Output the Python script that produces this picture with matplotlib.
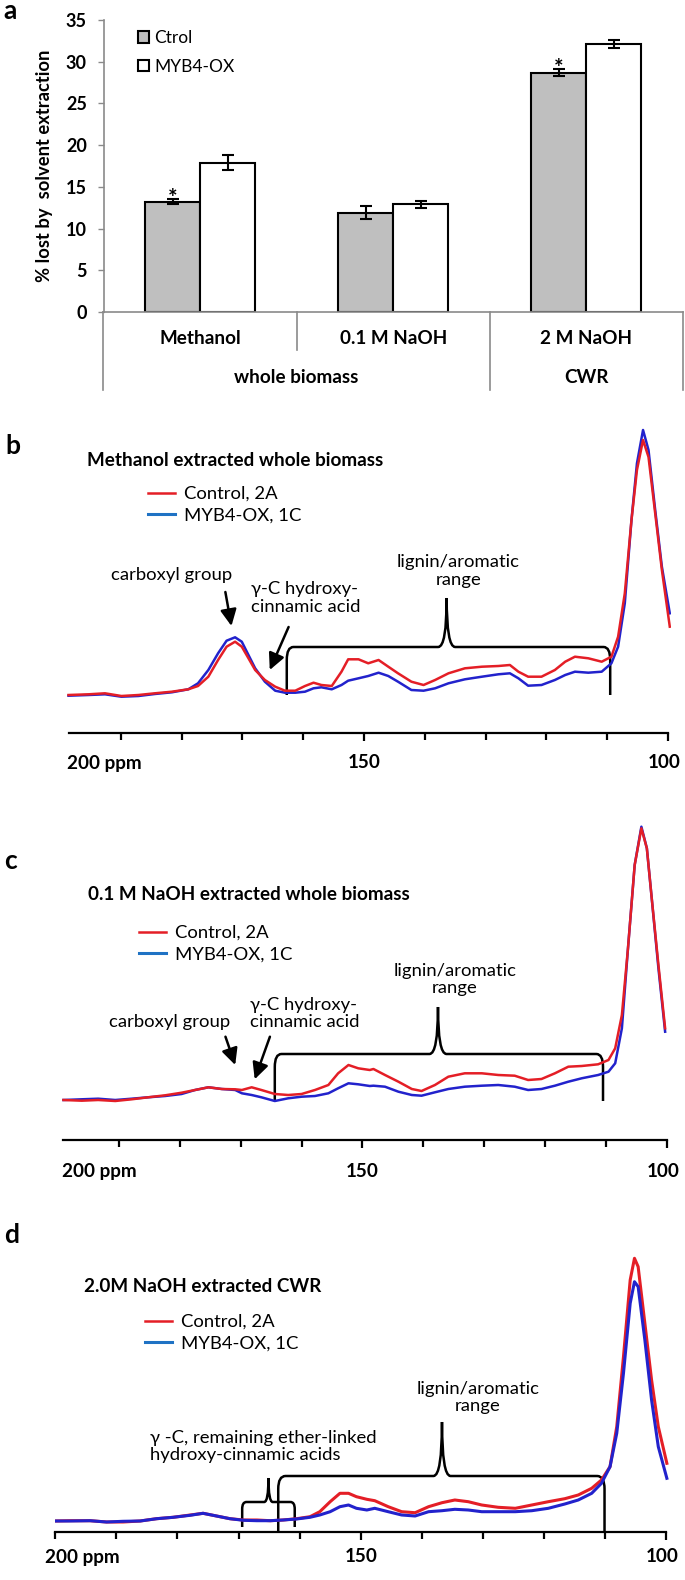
import numpy as np
import matplotlib
matplotlib.use("Agg")
import matplotlib.pyplot as plt
from matplotlib.path import Path
from matplotlib.patches import PathPatch
from matplotlib.lines import Line2D
from matplotlib.transforms import blended_transform_factory

plt.rcParams['font.family'] = ['Lato', 'DejaVu Sans']

# ---- panel a: % lost by solvent extraction ----
categories = ['Methanol', '0.1 M NaOH', '2 M NaOH']
groups = ['whole biomass', 'CWR']
group_members = [[0, 1], [2]]
ctrol = [13.2, 11.9, 28.7]
ctrol_err = [0.3, 0.75, 0.4]
myb4 = [17.9, 12.9, 32.1]
myb4_err = [0.9, 0.4, 0.45]
significant = [0, 2]

# ---- panel b: methanol extracted whole biomass (13C NMR, arbitrary units) ----
b_ppm = [198.6, 195.3, 192.6, 189.9, 187.1, 184.4, 181.6, 178.9, 177.3, 175.6,
         174.0, 172.6, 171.2, 170.1, 169.0, 167.9, 166.3, 164.6, 163.0, 161.3,
         159.7, 158.3, 157.0, 155.3, 153.7, 152.6, 150.9, 149.3, 147.6, 146.0,
         144.4, 142.2, 140.2, 138.3, 136.1, 133.4, 130.6, 127.9, 126.0, 124.6,
         123.0, 120.8, 118.6, 116.9, 115.3, 113.1, 110.9, 109.3, 108.2, 107.1,
         106.0, 105.1, 104.1, 103.2, 102.1, 101.0, 99.7]
b_control = [0, 0.7, 1.7, -1, 0, 1.7, 3.3, 5.7, 9, 18.3,
             35, 48.3, 53.3, 48.3, 36.7, 25, 15, 8.3, 4.3, 4.3,
             9, 12.3, 10, 9, 23.3, 35.7, 35.7, 31.7, 35, 28.3,
             21.7, 13.3, 10, 15, 21.7, 26.7, 28.3, 29, 30, 23.3,
             18.3, 18.3, 25, 33.3, 38.3, 36.7, 33.3, 38.3, 58.3, 101.7,
             175, 225, 255, 238, 181.7, 125, 68.3]
b_myb4 = [-0.7, 0, 0.7, -1.7, -1, 1, 2.7, 5.7, 11.7, 25,
          41.7, 54.3, 57.7, 53.3, 40, 26.7, 13.3, 4.3, 2.3, 2.3,
          3.3, 6.7, 7.7, 5.7, 10, 14.3, 16.7, 19, 22.3, 19,
          13.3, 5, 4.3, 6.7, 11.7, 15.7, 18.3, 20.7, 21.7, 16.7,
          9.3, 10, 15, 20, 23.3, 22.3, 23.3, 31.7, 48.3, 91.7,
          175, 231.7, 265, 245, 185, 128.3, 81.7]

# ---- panel c: 0.1 M NaOH extracted whole biomass ----
c_ppm = [199.1, 196.1, 193.4, 190.6, 187.9, 185.2, 182.4, 179.7, 177.5, 175.3,
         173.1, 170.9, 169.8, 168.2, 166.6, 164.4, 162.2, 160.0, 157.8, 155.6,
         154.0, 152.3, 150.7, 148.8, 148.2, 146.3, 144.1, 141.9, 140.3, 138.1,
         135.9, 133.2, 130.4, 127.7, 125.0, 122.8, 120.6, 118.4, 116.2, 114.0,
         111.3, 109.6, 108.5, 107.4, 106.4, 105.3, 104.2, 103.3, 102.5, 101.4,
         100.3]
c_control = [0, -0.7, 0, -1, 0.7, 2.7, 4.7, 7.3, 10, 12.7,
             11, 10.7, 10, 12.7, 10, 6, 5, 6, 10, 15,
             26.7, 35, 31.7, 30, 31, 25, 18.3, 11, 9, 15,
             23.3, 26.7, 26.7, 25, 24.3, 20, 21, 26.7, 33.3, 34,
             35.7, 40, 51.7, 85, 151.7, 235, 271.7, 251.7, 201.7, 135,
             71.7]
c_myb4 = [0, 0.7, 1.3, 0, 1.3, 2.7, 4, 6, 10, 12.7,
          11, 10, 6.7, 5, 2.7, -1, 1.7, 3.3, 4, 6.7,
          11.7, 16.7, 15.7, 14, 14.3, 13.3, 8.3, 5, 4.3, 7.7,
          11, 13.3, 14.3, 15, 13.3, 10, 11, 14.3, 18.3, 21.7,
          25, 28.3, 36.7, 71.7, 151.7, 235, 273.3, 251.7, 201.7, 131.7,
          68.3]

# ---- panel d: 2.0 M NaOH extracted CWR ----
d_ppm = [200.0, 197.6, 194.3, 191.6, 188.9, 186.1, 183.4, 180.7, 177.9, 175.8,
         173.6, 171.4, 169.2, 167.0, 164.8, 162.7, 160.5, 158.3, 156.7, 155.0,
         153.4, 152.0, 150.7, 149.0, 147.7, 145.5, 143.3, 141.1, 138.9, 136.7,
         134.6, 132.4, 130.2, 127.5, 124.7, 122.0, 119.3, 116.6, 114.4, 112.2,
         110.6, 109.2, 108.1, 107.0, 105.9, 105.2, 104.6, 103.5, 102.4, 101.3,
         99.9]
d_control = [0, 0.3, 0.3, -1, -1, 0, 2.3, 3.7, 6, 7.7,
             5, 2.3, 1, 1, 0.3, 1, 2.3, 4.3, 9.3, 19.3,
             27.7, 27.7, 24.3, 21.7, 20.3, 14.3, 9.3, 8.3, 14.3, 18.3,
             21, 19.3, 16, 13.7, 12.7, 16, 19.3, 22.3, 26, 32.7,
             41, 54.3, 94.3, 164.3, 241, 262.7, 254.3, 197.7, 141, 94.3,
             57.7]
d_myb4 = [0, 0, 0.3, -1, -0.3, 0, 2.3, 3.7, 5.7, 7.7,
          5, 2.3, 0.7, 0.3, 0.3, 1, 2, 3.7, 6, 9.3,
          14.3, 16, 12.7, 11, 12.7, 9.3, 6, 5, 9.3, 10.3,
          11.7, 11, 9.3, 9.3, 9.3, 10.3, 12.7, 17, 21, 27.7,
          37.7, 54.3, 87.7, 147.7, 217.7, 239.3, 234.3, 181, 121, 74.3,
          42.7]

series_labels = ['Control, 2A', 'MYB4-OX, 1C']

RED = '#e41e26'
BLUE = '#2222cc'
LEG_BLUE = '#1f72c4'
GRAY = '#8a8a8a'

FS_NOTE = 13.3   # annotation / legend text
FS_BOLD = 13.6   # bold labels and titles

W, H = 685, 1580
fig = plt.figure(figsize=(W / 100, H / 100), dpi=100)


def box(x0, y0, x1, y1):
    return [x0 / W, 1 - y1 / H, (x1 - x0) / W, (y1 - y0) / H]


def fxy(x, y):
    return (x / W, 1 - y / H)


# ================= panel a =================
ax = fig.add_axes(box(103.5, 20, 683, 312))
x = np.arange(len(categories))
bw = 0.285
ax.bar(x - bw / 2, ctrol, bw, yerr=ctrol_err, color='#bfbfbf', edgecolor='black',
       linewidth=1.5, capsize=4.5, error_kw=dict(elinewidth=1.5, capthick=1.5),
       label='Ctrol')
ax.bar(x + bw / 2, myb4, bw, yerr=myb4_err, color='white', edgecolor='black',
       linewidth=1.5, capsize=4.5, error_kw=dict(elinewidth=1.5, capthick=1.5),
       label='MYB4-OX')
ax.set_xlim(-0.5, 2.5)
ax.set_ylim(0, 35)
ax.set_yticks(range(0, 36, 5))
for s in ['top', 'right']:
    ax.spines[s].set_visible(False)
for s in ['left', 'bottom']:
    ax.spines[s].set_color(GRAY)
    ax.spines[s].set_linewidth(1.2)
ax.tick_params(axis='x', length=0, labelbottom=False)
ax.tick_params(axis='y', length=4, width=1, color=GRAY, pad=8, labelsize=13)
for t in ax.get_yticklabels():
    t.set_fontweight('bold')
ax.set_ylabel('% lost by  solvent extraction', fontsize=13.2, fontweight='bold')
ax.yaxis.set_label_coords(-0.088, 0.5)

for i in significant:
    ax.text(i - bw / 2, ctrol[i] + ctrol_err[i] + 0.1, '*', ha='center', va='center',
            fontsize=16, fontweight='bold')

trans = blended_transform_factory(ax.transData, ax.transAxes)
for xv, depth in zip([-0.5, 0.5, 1.5, 2.5], [-0.267, -0.13, -0.267, -0.267]):
    ax.plot([xv, xv], [0, depth], transform=trans, color=GRAY, lw=1.2, clip_on=False)
for i, cat in enumerate(categories):
    ax.text(i, -0.09, cat, transform=trans, ha='center', va='center',
            fontsize=FS_BOLD, fontweight='bold')
for g, members in zip(groups, group_members):
    ax.text(np.mean(members), -0.224, g, transform=trans, ha='center', va='center',
            fontsize=FS_BOLD, fontweight='bold')

ax.legend(loc='upper left', bbox_to_anchor=fxy(138, 30), bbox_transform=fig.transFigure,
          frameon=False, fontsize=12.5, handlelength=0.65, handleheight=0.65,
          handletextpad=0.3, labelspacing=0.72, borderpad=0, borderaxespad=0)
fig.text(*fxy(3, 11), 'a', fontsize=19, fontweight='bold', ha='left', va='center')


# ================= spectra =================
def spectrum_axes(px_box, ylim, spine_from, minor):
    a = fig.add_axes(box(*px_box))
    a.set_xlim(200, 99.5)
    a.set_ylim(*ylim)
    a.patch.set_visible(False)
    for s in ['top', 'right', 'left']:
        a.spines[s].set_visible(False)
    a.spines['bottom'].set_bounds(spine_from, 100)
    a.spines['bottom'].set_linewidth(1.6)
    a.set_yticks([])
    a.set_xticks([150, 100])
    a.set_xticks(minor, minor=True)
    a.tick_params(axis='x', which='major', length=6, width=1.6, labelbottom=False)
    a.tick_params(axis='x', which='minor', length=5, width=1.6)
    return a


def axis_labels(a, left_ppm, dy):
    kw = dict(xycoords=('data', 'axes fraction'), textcoords='offset points',
              va='center', fontsize=FS_BOLD, fontweight='bold')
    a.annotate('200 ppm', xy=(left_ppm, 0), xytext=(0, -dy), ha='left', **kw)
    a.annotate('150', xy=(150, 0), xytext=(0, -dy), ha='center', **kw)
    a.annotate('100', xy=(100.6, 0), xytext=(0, -dy), ha='center', **kw)


def brace(a, x0, x1, xc, y_bot, y_top, y_tip, rx, ry, cw, lw=1.8):
    s = -1 if x1 < x0 else 1
    verts = [(x0, y_bot), (x0, y_top - ry), (x0, y_top), (x0 + s * rx, y_top),
             (xc - s * cw, y_top), (xc, y_top), (xc, y_tip), (xc, y_top), (xc + s * cw, y_top),
             (x1 - s * rx, y_top), (x1, y_top), (x1, y_top - ry), (x1, y_bot)]
    codes = [Path.MOVETO, Path.LINETO, Path.CURVE3, Path.CURVE3, Path.LINETO,
             Path.CURVE3, Path.CURVE3, Path.CURVE3, Path.CURVE3, Path.LINETO,
             Path.CURVE3, Path.CURVE3, Path.LINETO]
    a.add_patch(PathPatch(Path(verts, codes), facecolor='none', edgecolor='black',
                          lw=lw, clip_on=False))


def arrow(a, tail, tip):
    a.annotate('', xy=tip, xytext=tail,
               arrowprops=dict(arrowstyle='-|>,head_length=0.55,head_width=0.27',
                               mutation_scale=18, lw=1.8, color='black',
                               shrinkA=0, shrinkB=0), annotation_clip=False)


def spectrum_legend(a, x, y):
    handles = [Line2D([], [], color=RED, lw=1.8), Line2D([], [], color=LEG_BLUE, lw=2.2)]
    a.legend(handles, series_labels, loc='upper left', bbox_to_anchor=fxy(x, y),
             bbox_transform=fig.transFigure, frameon=False, fontsize=FS_NOTE,
             handlelength=1.45, handletextpad=0.5, labelspacing=0.32,
             borderpad=0, borderaxespad=0)


minor_bc = [190, 180, 170, 160, 140, 130, 120, 110]

# ---- b ----
axb = spectrum_axes((60, 420, 671, 733), (-38, 275), 198.6, minor_bc)
axb.plot(b_ppm, b_control, color=RED, lw=1.8, zorder=3)
axb.plot(b_ppm, b_myb4, color=BLUE, lw=1.8, zorder=2)
axis_labels(axb, 198.8, 21.6)
brace(axb, 162.7, 109.5, 136.4, 0, 48, 97, 1.1, 13, 1.4)
arrow(axb, (172.8, 103), (171.8, 69))
arrow(axb, (162.4, 68), (165.5, 25))
axb.text(181.7, 120, 'carboxyl group', ha='center', va='center', fontsize=FS_NOTE)
axb.text(168.6, 97, 'γ-C hydroxy-\ncinnamic acid', ha='left', va='center',
         fontsize=FS_NOTE, linespacing=1.1)
axb.text(134.5, 124, 'lignin/aromatic\nrange', ha='center', va='center',
         fontsize=FS_NOTE, linespacing=1.1)
spectrum_legend(axb, 148, 486)
fig.text(*fxy(5, 446), 'b', fontsize=19, fontweight='bold', ha='left', va='center')
fig.text(*fxy(87, 461), 'Methanol extracted whole biomass', fontsize=FS_BOLD,
         fontweight='bold', ha='left', va='center')

# ---- c ----
axc = spectrum_axes((58, 815, 670, 1140), (-40, 285), 199.2, minor_bc)
axc.plot(c_ppm, c_control, color=RED, lw=1.8, zorder=3)
axc.plot(c_ppm, c_myb4, color=BLUE, lw=1.8, zorder=2)
axis_labels(axc, 199.3, 22.8)
brace(axc, 164.4, 110.5, 137.6, -1, 46, 93, 1.1, 13, 1.4)
arrow(axc, (172.5, 63.3), (170.9, 35))
arrow(axc, (165.2, 63.3), (167.7, 20.7))
axc.text(181.6, 78, 'carboxyl group', ha='center', va='center', fontsize=FS_NOTE)
axc.text(168.5, 86.5, 'γ-C hydroxy-\ncinnamic acid', ha='left', va='center',
         fontsize=FS_NOTE, linespacing=1.1)
axc.text(134.8, 120.7, 'lignin/aromatic\nrange', ha='center', va='center',
         fontsize=FS_NOTE, linespacing=1.1)
spectrum_legend(axc, 139, 925)
fig.text(*fxy(4, 861), 'c', fontsize=19, fontweight='bold', ha='left', va='center')
fig.text(*fxy(88, 895), '0.1 M NaOH extracted whole biomass', fontsize=FS_BOLD,
         fontweight='bold', ha='left', va='center')

# ---- d ----
axd = spectrum_axes((55.2, 1250, 669.3, 1532), (-11, 271), 200, [200] + minor_bc)
axd.plot(d_ppm, d_control, color=RED, lw=2.2, zorder=2)
axd.plot(d_ppm, d_myb4, color=BLUE, lw=2.2, zorder=3)
axis_labels(axd, 201.6, 18)
brace(axd, 163.5, 110.1, 136.7, -10, 45, 99, 1.2, 13, 1.4)
brace(axd, 169.4, 160.8, 165.1, -6, 19, 43, 0.7, 7, 0.7)
axd.text(184.5, 74.5, 'γ -C, remaining ether-linked\nhydroxy-cinnamic acids', ha='left',
         va='center', fontsize=FS_NOTE, linespacing=1.1)
axd.text(130.8, 123.5, 'lignin/aromatic\nrange', ha='center', va='center',
         fontsize=FS_NOTE, linespacing=1.1)
spectrum_legend(axd, 145, 1314)
fig.text(*fxy(4, 1235), 'd', fontsize=19, fontweight='bold', ha='left', va='center')
fig.text(*fxy(84, 1287), '2.0M NaOH extracted CWR', fontsize=FS_BOLD,
         fontweight='bold', ha='left', va='center')

fig.savefig('out.png', dpi=100)
